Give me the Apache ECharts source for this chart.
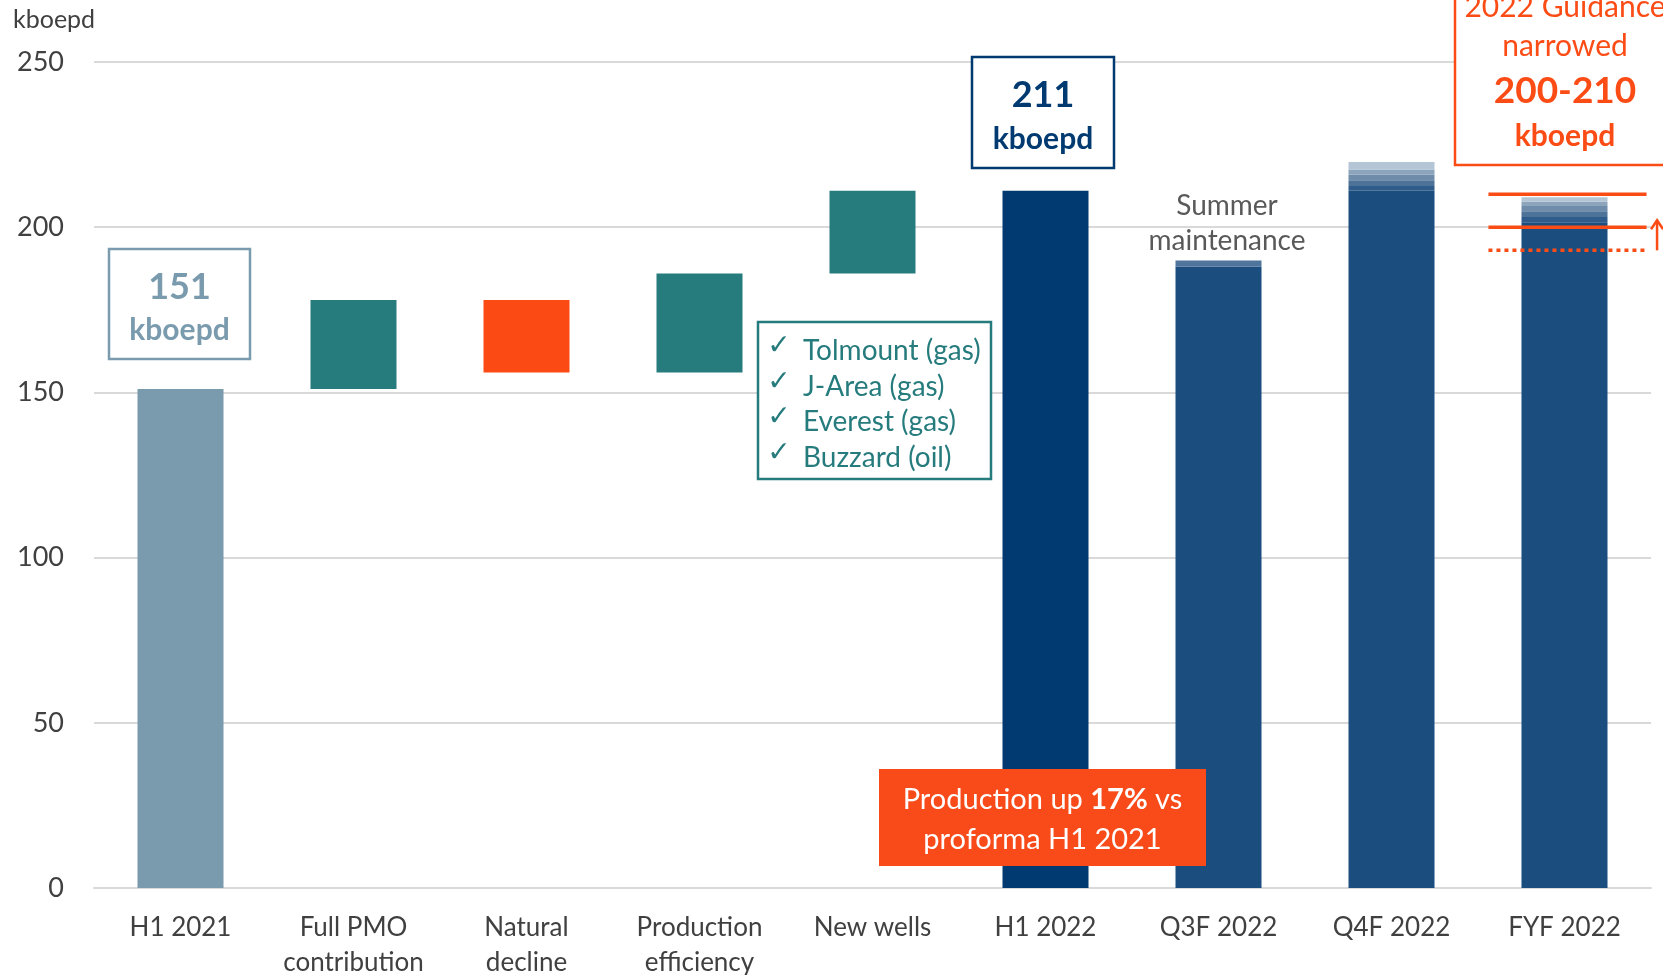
<!DOCTYPE html>
<html>
<head>
<meta charset="utf-8">
<script src="https://cdn.jsdelivr.net/npm/echarts@6/dist/echarts.min.js"></script>
<style>
  html, body { margin: 0; padding: 0; background: #fff; }
  #main { width: 1663px; height: 975px; }
</style>
</head>
<body>
<div id="main"></div>
<script>
// production bridge, kboepd
const categories = ['H1 2021', 'Full PMO\ncontribution', 'Natural\ndecline', 'Production\nefficiency',
  'New wells', 'H1 2022', 'Q3F 2022', 'Q4F 2022', 'FYF 2022'];
const startValue = 151;
const stepValues = [27, -22, 30, 25];
const endValue = 211;
// forecast bars: solid part + lighter range bands stacked on top
const forecastBase = [188, 211, 201.5];
const forecastBands = [[1.9], [1.5, 1.7, 1.7, 1.6, 2.2], [1.6, 1.7, 1.6, 1.3, 1.4]];
const guidanceLines = [[8, 210, 0], [8, 200, 0], [8, 193, 1]];
const guidanceArrow = [[8, 193, 200]];
const yTicks = { min: 0, max: 250, interval: 50 };
const wellNames = ['Tolmount (gas)', 'J-Area (gas)', 'Everest (gas)', 'Buzzard (oil)'];

const FONT = 'Lato';
const C = {
  start: '#7A9AAE', up: '#267B7D', down: '#FC4A15', h1: '#003A70', fc: '#1B4D7E',
  orange: '#FC4C16', grid: '#D9D9D9', text: '#404040'
};
const bandColors = ['#2F5C8A', '#4E7399', '#6F8DAB', '#8CA5BD', '#B4C5D5'];

const baseData = [0];
const mainData = [{ value: startValue, itemStyle: { color: C.start } }];
let run = startValue;
stepValues.forEach(s => {
  baseData.push(s > 0 ? run : run + s);
  mainData.push({ value: Math.abs(s), itemStyle: { color: s > 0 ? C.up : C.down } });
  run += s;
});
baseData.push(0);
mainData.push({ value: endValue, itemStyle: { color: C.h1 } });
forecastBase.forEach(v => {
  baseData.push(0);
  mainData.push({ value: v, itemStyle: { color: C.fc } });
});

const firstForecast = categories.length - forecastBase.length;
const bandSeries = bandColors.map((col, k) => ({
  type: 'bar', stack: 'w', barWidth: 86, silent: true,
  data: categories.map((c, i) => {
    const f = i - firstForecast;
    if (f < 0 || forecastBands[f][k] == null) return '-';
    return { value: forecastBands[f][k], itemStyle: { color: f === 0 ? '#50759C' : col } };
  })
}));

const chart = echarts.init(document.getElementById('main'));
const option = {
  animation: false,
  grid: { left: 94, right: 12, top: 62, bottom: 87, outerBoundsMode: 'none', containLabel: false },
  xAxis: {
    type: 'category',
    data: categories,
    axisTick: { show: false },
    axisLine: { lineStyle: { color: C.grid, width: 2 } },
    axisLabel: { color: C.text, fontFamily: FONT, fontSize: 26, lineHeight: 35, margin: 22, interval: 0 }
  },
  yAxis: {
    type: 'value',
    min: yTicks.min, max: yTicks.max, interval: yTicks.interval,
    axisLine: { show: false },
    axisTick: { show: false },
    splitLine: { lineStyle: { color: C.grid, width: 2 } },
    axisLabel: { color: C.text, fontFamily: FONT, fontSize: 27, margin: 30 }
  },
  series: [
    { type: 'bar', stack: 'w', barWidth: 86, silent: true, itemStyle: { color: 'transparent' }, data: baseData },
    { type: 'bar', stack: 'w', barWidth: 86, silent: true, data: mainData },
    ...bandSeries,
    {
      type: 'custom', clip: false, z: 10, silent: true,
      encode: { x: 0, y: 1 },
      data: guidanceLines,
      renderItem: (params, api) => {
        const p = api.coord([api.value(0), api.value(1)]);
        const half = api.size([1, 0])[0] * 0.457;
        const dotted = api.value(2) === 1;
        return {
          type: 'line',
          shape: { x1: p[0] - half + 3, y1: p[1], x2: p[0] + half + 3, y2: p[1] },
          style: { stroke: C.orange, lineWidth: 3.5, lineDash: dotted ? [4, 4] : null }
        };
      }
    },
    {
      type: 'custom', clip: false, z: 10, silent: true,
      encode: { x: 0, y: [1, 2] },
      data: guidanceArrow,
      renderItem: (params, api) => {
        const from = api.coord([api.value(0), api.value(1)]);
        const to = api.coord([api.value(0), api.value(2)]);
        const x = from[0] + api.size([1, 0])[0] * 0.535;
        const tip = to[1] - 7;
        return {
          type: 'group',
          children: [
            { type: 'line', shape: { x1: x, y1: from[1], x2: x, y2: tip },
              style: { stroke: C.orange, lineWidth: 2.5 } },
            { type: 'polyline', shape: { points: [[x - 6, tip + 9], [x, tip], [x + 6, tip + 9]] },
              style: { stroke: C.orange, lineWidth: 2.5, fill: null } }
          ]
        };
      }
    }
  ],
  graphic: {
    elements: [
      { type: 'text', z: 100, left: 13, top: 7, style: { text: 'kboepd', fill: C.text, font: '25px Lato' } },
      // 151 box
      { type: 'rect', z: 100, shape: { x: 109, y: 249, width: 141, height: 110 },
        style: { fill: '#fff', stroke: C.start, lineWidth: 2.5 } },
      { type: 'text', z: 101, x: 179.5, y: 287, style: { text: '151', fill: C.start, font: 'bold 36px Lato', align: 'center', verticalAlign: 'middle' } },
      { type: 'text', z: 101, x: 179.5, y: 330, style: { text: 'kboepd', fill: C.start, font: 'bold 30px Lato', align: 'center', verticalAlign: 'middle' } },
      // 211 box
      { type: 'rect', z: 100, shape: { x: 972, y: 57, width: 142, height: 111 },
        style: { fill: '#fff', stroke: C.h1, lineWidth: 2.5 } },
      { type: 'text', z: 101, x: 1043, y: 95, style: { text: '211', fill: C.h1, font: 'bold 36px Lato', align: 'center', verticalAlign: 'middle' } },
      { type: 'text', z: 101, x: 1043, y: 139, style: { text: 'kboepd', fill: C.h1, font: 'bold 30px Lato', align: 'center', verticalAlign: 'middle' } },
      // new wells list
      { type: 'rect', z: 100, shape: { x: 758, y: 322, width: 233, height: 157 },
        style: { fill: '#fff', stroke: C.up, lineWidth: 2.5 } },
      ...wellNames.flatMap((w, i) => [
        { type: 'text', z: 101, x: 779, y: 347 + i * 35.5, style: { text: '✓', fill: C.up, font: '28px "DejaVu Sans"', align: 'center', verticalAlign: 'middle' } },
        { type: 'text', z: 101, x: 803, y: 351 + i * 35.5, style: { text: w, fill: C.up, font: '28px Lato', align: 'left', verticalAlign: 'middle' } }
      ]),
      // production up box
      { type: 'rect', z: 100, shape: { x: 879, y: 769, width: 327, height: 97 }, style: { fill: '#F94A19' } },
      { type: 'text', z: 101, x: 1042.5, y: 820,
        style: {
          text: 'Production up {b|17%} vs\nproforma H1 2021', fill: '#fff', font: '29px Lato',
          align: 'center', verticalAlign: 'middle', lineHeight: 40,
          rich: { b: { fontWeight: 'bold', fontSize: 29, fontFamily: FONT, fill: '#fff', lineHeight: 40 } }
        } },
      // summer maintenance
      { type: 'text', z: 100, x: 1227, y: 206, style: { text: 'Summer', fill: '#595959', font: '28px Lato', align: 'center', verticalAlign: 'middle' } },
      { type: 'text', z: 100, x: 1227, y: 241, style: { text: 'maintenance', fill: '#595959', font: '28px Lato', align: 'center', verticalAlign: 'middle' } },
      // guidance box
      { type: 'rect', z: 100, shape: { x: 1455, y: -10, width: 240, height: 175 },
        style: { fill: '#fff', stroke: C.orange, lineWidth: 2.5 } },
      { type: 'text', z: 101, x: 1565, y: 7, style: { text: '2022 Guidance', fill: C.orange, font: '30px Lato', align: 'center', verticalAlign: 'middle' } },
      { type: 'text', z: 101, x: 1565, y: 46, style: { text: 'narrowed', fill: C.orange, font: '30px Lato', align: 'center', verticalAlign: 'middle' } },
      { type: 'text', z: 101, x: 1565, y: 91, style: { text: '200-210', fill: C.orange, font: 'bold 37px Lato', align: 'center', verticalAlign: 'middle' } },
      { type: 'text', z: 101, x: 1565, y: 136, style: { text: 'kboepd', fill: C.orange, font: 'bold 30px Lato', align: 'center', verticalAlign: 'middle' } }
    ]
  }
};
chart.setOption(option);
window.onresize = () => { chart.resize(); };
</script>
</body>
</html>
